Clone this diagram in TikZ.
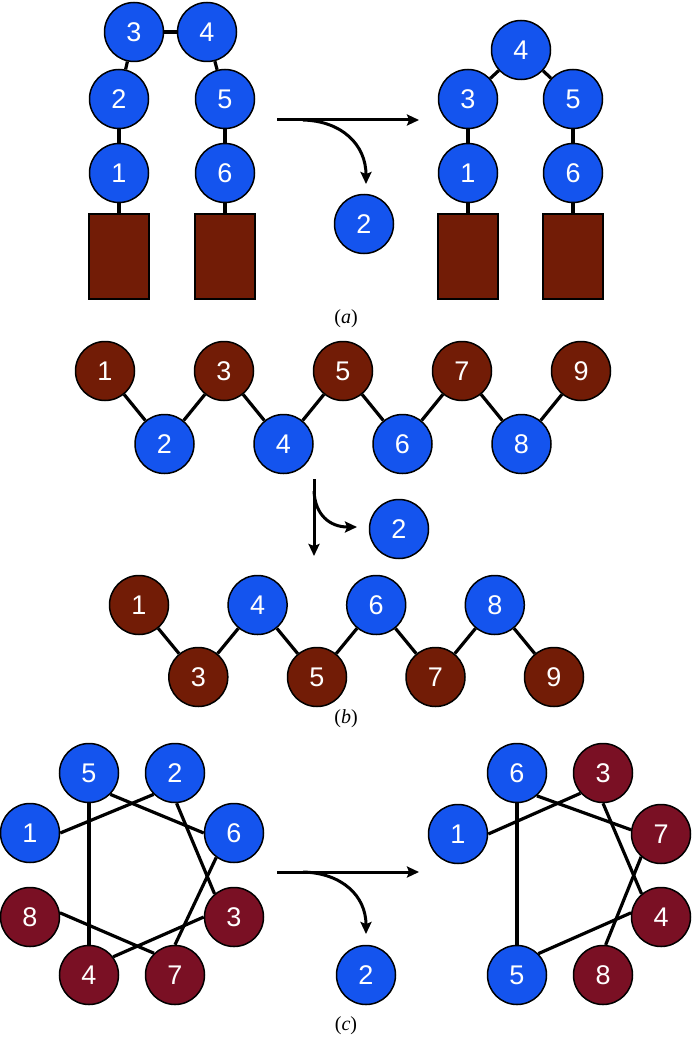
\documentclass[tikz,border=0pt]{standalone}
\usepackage{fontspec}
\setmainfont{Liberation Serif}
\newfontfamily\numfont{Liberation Sans}
\usetikzlibrary{arrows.meta,backgrounds}
\definecolor{ballblue}{RGB}{20,84,238}
\definecolor{ballbrown}{RGB}{114,28,6}
\definecolor{ballred}{RGB}{122,16,36}
\begin{document}
\begin{tikzpicture}[x=1pt,y=-1pt,
  ball/.style={circle,draw=black,line width=1.5pt,minimum size=59pt,inner sep=0pt,text=white,font=\numfont\fontsize{27}{27}\selectfont},
  bb/.style={ball,fill=ballblue},
  br/.style={ball,fill=ballbrown},
  rd/.style={ball,fill=ballred},
  block/.style={draw=black,line width=1.2pt,fill=ballbrown,minimum width=60pt,minimum height=85pt,inner sep=0pt},
  bond/.style={line width=3.2pt},
  flow/.style={line width=3pt,-{Stealth[length=12pt,width=11pt,inset=2pt]}},
  lbl/.style={font=\fontsize{20}{20}\selectfont}
]
\useasboundingbox (0,0) rectangle (692,1038);

% ---------------- (a) ----------------
\node[bb] (a3) at (134,32) {3};
\node[bb] (a4) at (207,32) {4};
\node[bb] (a2) at (119,99) {2};
\node[bb] (a5) at (225,99) {5};
\node[bb] (a1) at (119,173) {1};
\node[bb] (a6) at (225,173) {6};
\node[block] (aL) at (119,256.5) {};
\node[block] (aR) at (225,256.5) {};

\node[bb] (r4) at (521,50) {4};
\node[bb] (r3) at (468,99) {3};
\node[bb] (r5) at (573,99) {5};
\node[bb] (r1) at (468,173) {1};
\node[bb] (r6) at (573,173) {6};
\node[block] (rL) at (468,256.5) {};
\node[block] (rR) at (573,256.5) {};

\node[bb] (aX) at (364,224) {2};

\coordinate (aS) at (277,120);
\coordinate (aE) at (419,120);
\coordinate (aB) at (303,120);
\coordinate (aT) at (366,184);
\draw[flow] (aS) -- (aE);
\draw[flow] (aB) .. controls (342,121) and (366,145) .. (aT);

\node[lbl] (la) at (346,319) {(\textit{a})};

\begin{scope}[on background layer]
\draw[bond] (aL.north) -- (a1.south);
\draw[bond] (a1) -- (a2);
\draw[bond] (a2) -- (a3);
\draw[bond] (a3) -- (a4);
\draw[bond] (a4) -- (a5);
\draw[bond] (a5) -- (a6);
\draw[bond] (a6.south) -- (aR.north);
\draw[bond] (rL.north) -- (r1.south);
\draw[bond] (r1) -- (r3);
\draw[bond] (r3) -- (r4);
\draw[bond] (r4) -- (r5);
\draw[bond] (r5) -- (r6);
\draw[bond] (r6.south) -- (rR.north);
\end{scope}

% ---------------- (b) ----------------
\node[br] (b1) at (105,371) {1};
\node[bb] (b2) at (164.5,444) {2};
\node[br] (b3) at (224,371) {3};
\node[bb] (b4) at (283.5,444) {4};
\node[br] (b5) at (343,371) {5};
\node[bb] (b6) at (402.5,444) {6};
\node[br] (b7) at (462,371) {7};
\node[bb] (b8) at (521.5,444) {8};
\node[br] (b9) at (581,371) {9};

\coordinate (bS) at (314,479);
\coordinate (bE) at (314,556);
\coordinate (bB) at (314,491);
\coordinate (bT) at (357,527);
\draw[flow] (bS) -- (bE);
\draw[flow] (bB) .. controls (315,515) and (330,527) .. (bT);
\node[bb] (bX) at (399,529) {2};

\node[br] (d1) at (139,605) {1};
\node[br] (d3) at (198.3,677) {3};
\node[bb] (d4) at (257.6,605) {4};
\node[br] (d5) at (317,677) {5};
\node[bb] (d6) at (376.2,605) {6};
\node[br] (d7) at (435.5,677) {7};
\node[bb] (d8) at (494.8,605) {8};
\node[br] (d9) at (554,677) {9};

\node[lbl] (lb) at (346,719) {(\textit{b})};

\begin{scope}[on background layer]
\draw[bond] (b1) -- (b2) -- (b3) -- (b4) -- (b5) -- (b6) -- (b7) -- (b8) -- (b9);
\draw[bond] (d1) -- (d3) -- (d4) -- (d5) -- (d6) -- (d7) -- (d8) -- (d9);
\end{scope}

% ---------------- (c) ----------------
\node[bb] (c5) at (89,773) {5};
\node[bb] (c2) at (175,773) {2};
\node[bb] (c1) at (30,833) {1};
\node[bb] (c6) at (234,833) {6};
\node[rd] (c8) at (30,917) {8};
\node[rd] (c3) at (234,917) {3};
\node[rd] (c4) at (89,975) {4};
\node[rd] (c7) at (175,975) {7};

\draw[bond] (c1.0) -- (c2.225);
\draw[bond] (c2.-87) -- (c3.130);
\draw[bond] (c3.180) -- (c4.37);
\draw[bond] (c4.north) -- (c5.south);
\draw[bond] (c5.-45) -- (c6.180);
\draw[bond] (c6.234) -- (c7.90);
\draw[bond] (c7.134) -- (c8.8);

\coordinate (cS) at (277,872);
\coordinate (cE) at (419,872);
\coordinate (cB) at (303,872);
\coordinate (cT) at (366,934);
\draw[flow] (cS) -- (cE);
\draw[flow] (cB) .. controls (342,873) and (366,896) .. (cT);
\node[bb] (cX) at (366,975) {2};

\node[bb] (e6) at (517,773) {6};
\node[rd] (e3) at (603,773) {3};
\node[bb] (e1) at (458,834) {1};
\node[rd] (e7) at (661,834) {7};
\node[rd] (e4) at (661,917) {4};
\node[bb] (e5) at (517,975) {5};
\node[rd] (e8) at (603,975) {8};

\draw[bond] (e1.0) -- (e3.222);
\draw[bond] (e3.-90) -- (e4.130);
\draw[bond] (e4.172) -- (e5.45);
\draw[bond] (e5.north) -- (e6.south);
\draw[bond] (e6.-49) -- (e7.172);
\draw[bond] (e7.229) -- (e8.85);

\node[lbl] (lc) at (346,1026) {(\textit{c})};
\end{tikzpicture}
\end{document}
